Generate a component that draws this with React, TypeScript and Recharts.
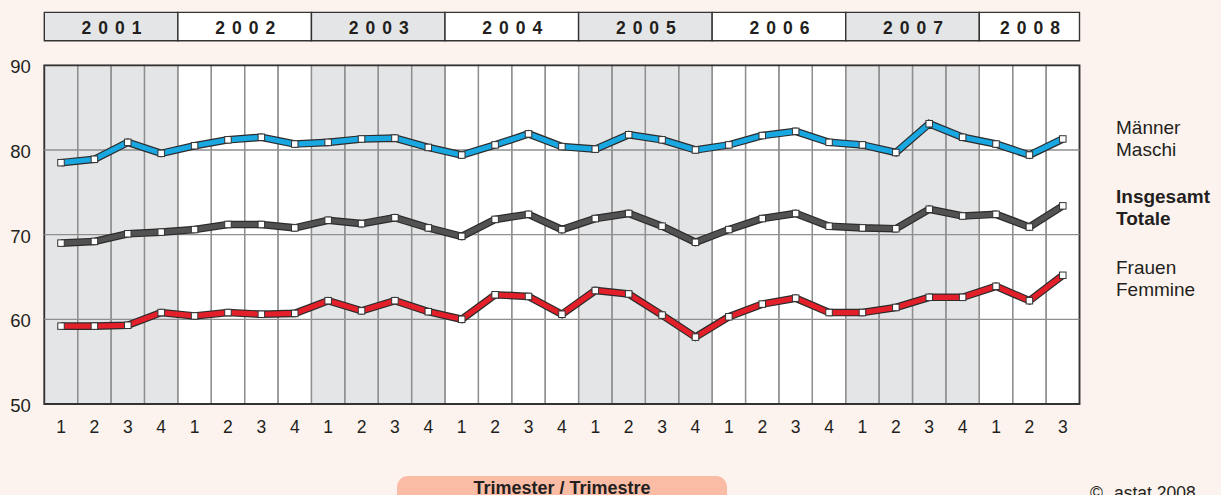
import React from 'react';
import { ComposedChart, Line, XAxis, YAxis, ReferenceArea, ReferenceLine } from 'recharts';

const FONT = 'Arial, "Liberation Sans", Helvetica, sans-serif';

const years = ['2001', '2002', '2003', '2004', '2005', '2006', '2007', '2008'];
const categories = [
  '2001-1', '2001-2', '2001-3', '2001-4',
  '2002-1', '2002-2', '2002-3', '2002-4',
  '2003-1', '2003-2', '2003-3', '2003-4',
  '2004-1', '2004-2', '2004-3', '2004-4',
  '2005-1', '2005-2', '2005-3', '2005-4',
  '2006-1', '2006-2', '2006-3', '2006-4',
  '2007-1', '2007-2', '2007-3', '2007-4',
  '2008-1', '2008-2', '2008-3',
];
const quarterLabels = [
  '1', '2', '3', '4', '1', '2', '3', '4', '1', '2', '3', '4', '1', '2', '3', '4',
  '1', '2', '3', '4', '1', '2', '3', '4', '1', '2', '3', '4', '1', '2', '3',
];
const maenner = [
  78.5, 78.9, 80.9, 79.6, 80.5, 81.2, 81.5, 80.7, 80.9, 81.3, 81.4, 80.3,
  79.4, 80.6, 81.9, 80.4, 80.1, 81.8, 81.2, 80.0, 80.6, 81.7, 82.2, 80.9,
  80.6, 79.7, 83.1, 81.5, 80.7, 79.4, 81.3,
];
const insgesamt = [
  69.0, 69.2, 70.1, 70.3, 70.6, 71.2, 71.2, 70.8, 71.7, 71.3, 72.0, 70.8,
  69.8, 71.8, 72.4, 70.6, 71.9, 72.5, 71.0, 69.1, 70.6, 71.9, 72.5, 71.0,
  70.8, 70.7, 73.0, 72.2, 72.4, 70.9, 73.4,
];
const frauen = [
  59.2, 59.2, 59.3, 60.8, 60.4, 60.8, 60.6, 60.7, 62.2, 61.0, 62.2, 60.9,
  60.0, 62.9, 62.7, 60.6, 63.4, 63.0, 60.5, 57.9, 60.3, 61.8, 62.5, 60.8,
  60.8, 61.4, 62.6, 62.6, 63.9, 62.2, 65.2,
];
const yTicks = [50, 60, 70, 80, 90];
const gridValues = [60, 70, 80];

const data = categories.map((c, i) => ({
  cat: c,
  m: maenner[i],
  t: insgesamt[i],
  f: frauen[i],
}));

const yearSpans = years.map((y, i) => {
  const cats = categories.filter((c) => c.startsWith(y));
  return { year: y, first: cats[0], last: cats[cats.length - 1], shaded: i % 2 === 0 };
});

const GRAY = '#e4e5e7';
const DARK = '#2b2b2b';
const GRID = '#8f8f8f';
const HEADER_LOW = 92.9;
const HEADER_HIGH = 96.25;

const SquareDot = (props: any) => {
  const { cx, cy, index } = props;
  if (cx == null || cy == null) return null;
  const s = 6.5;
  return (
    <rect key={`d-${index}`} x={cx - s / 2} y={cy - s / 2} width={s} height={s} fill="#ffffff" stroke="#333" strokeWidth={1} />
  );
};

const yearLabel = (year: string) => (props: any) => {
  const vb = props.viewBox || {};
  const { x = 0, y = 0, width = 0, height = 0 } = vb;
  return (
    <text
      x={x + width / 2 + 4}
      y={y + height / 2 + 7.6}
      textAnchor="middle"
      fontFamily={FONT}
      fontSize={17.5}
      fontWeight={700}
      fill="#231f20"
      letterSpacing={7}
    >
      {year}
    </text>
  );
};

export default function App() {
  return (
    <div
      style={{
        position: 'absolute',
        left: 0,
        top: 0,
        width: 1221,
        height: 495,
        overflow: 'hidden',
        background: '#fdf3ee',
        fontFamily: FONT,
      }}
    >
      <ComposedChart
        width={1221}
        height={495}
        data={data}
        margin={{ top: 65.3, right: 141.5, bottom: 61, left: 0 }}
      >
        <XAxis
          dataKey="cat"
          type="category"
          scale="band"
          axisLine={false}
          tickLine={false}
          tickSize={0}
          tickMargin={16.5}
          interval={0}
          tickFormatter={(_v: any, i: number) => quarterLabels[i]}
          tick={{ fontSize: 17.5, fill: '#231f20', fontFamily: FONT }}
        />
        <YAxis
          type="number"
          domain={[50, 90]}
          ticks={yTicks}
          width={44.3}
          axisLine={false}
          tickLine={false}
          tickSize={0}
          tickMargin={13.5}
          dy={1.5}
          tick={{ fontSize: 18.5, fill: '#231f20', fontFamily: FONT }}
        />
        {yearSpans.map((s) => (
          <ReferenceArea
            key={`band-${s.year}`}
            x1={s.first}
            x2={s.last}
            y1={50}
            y2={90}
            fill={s.shaded ? GRAY : '#ffffff'}
            fillOpacity={1}
            stroke="none"
            ifOverflow="visible"
          />
        ))}
        {categories.map((c) => (
          <ReferenceArea
            key={`q-${c}`}
            x1={c}
            x2={c}
            y1={50}
            y2={90}
            fill="none"
            fillOpacity={0}
            stroke={GRID}
            strokeWidth={1.3}
            ifOverflow="visible"
          />
        ))}
        {gridValues.map((v) => (
          <ReferenceLine key={`g-${v}`} y={v} stroke={GRID} strokeWidth={1.3} ifOverflow="visible" />
        ))}
        <ReferenceArea
          x1={categories[0]}
          x2={categories[categories.length - 1]}
          y1={50}
          y2={90}
          fill="none"
          fillOpacity={0}
          stroke="#333"
          strokeWidth={1.8}
          ifOverflow="visible"
        />
        {yearSpans.map((s) => (
          <ReferenceArea
            key={`hdr-${s.year}`}
            x1={s.first}
            x2={s.last}
            y1={HEADER_LOW}
            y2={HEADER_HIGH}
            fill={s.shaded ? GRAY : '#ffffff'}
            fillOpacity={1}
            stroke="#333"
            strokeWidth={1.4}
            ifOverflow="visible"
            label={yearLabel(s.year)}
          />
        ))}
        <Line dataKey="m" stroke={DARK} strokeWidth={7.6} dot={false} activeDot={false} strokeLinejoin="miter" isAnimationActive={false} legendType="none" />
        <Line dataKey="m" stroke="#19a7e2" strokeWidth={5.2} dot={<SquareDot />} activeDot={false} strokeLinejoin="miter" isAnimationActive={false} />
        <Line dataKey="t" stroke={DARK} strokeWidth={7.6} dot={false} activeDot={false} strokeLinejoin="miter" isAnimationActive={false} legendType="none" />
        <Line dataKey="t" stroke="#525252" strokeWidth={5.2} dot={<SquareDot />} activeDot={false} strokeLinejoin="miter" isAnimationActive={false} />
        <Line dataKey="f" stroke={DARK} strokeWidth={7.6} dot={false} activeDot={false} strokeLinejoin="miter" isAnimationActive={false} legendType="none" />
        <Line dataKey="f" stroke="#e3202a" strokeWidth={5.2} dot={<SquareDot />} activeDot={false} strokeLinejoin="miter" isAnimationActive={false} />
      </ComposedChart>

      <div style={{ position: 'absolute', left: 1116, top: 117.4, fontSize: 19, lineHeight: '22px', color: '#231f20' }}>
        <div>Männer</div>
        <div>Maschi</div>
      </div>
      <div style={{ position: 'absolute', left: 1116, top: 186.4, fontSize: 19, lineHeight: '22px', color: '#231f20', fontWeight: 700 }}>
        <div>Insgesamt</div>
        <div>Totale</div>
      </div>
      <div style={{ position: 'absolute', left: 1116, top: 257.4, fontSize: 19, lineHeight: '22px', color: '#231f20' }}>
        <div>Frauen</div>
        <div>Femmine</div>
      </div>

      <div
        style={{
          position: 'absolute',
          left: 397,
          top: 476,
          width: 330,
          height: 34,
          borderRadius: 11,
          background: '#fbbca6',
          textAlign: 'center',
          fontSize: 18,
          fontWeight: 700,
          lineHeight: '20px',
          paddingTop: 2.3,
          boxSizing: 'border-box',
          color: '#231f20',
        }}
      >
        Trimester / Trimestre
      </div>
      <div style={{ position: 'absolute', left: 1090, top: 483, fontSize: 17.5, lineHeight: '20px', color: '#231f20', whiteSpace: 'nowrap' }}>
        <span>©</span>
        <span style={{ marginLeft: 11 }}>astat 2008</span>
      </div>
    </div>
  );
}
